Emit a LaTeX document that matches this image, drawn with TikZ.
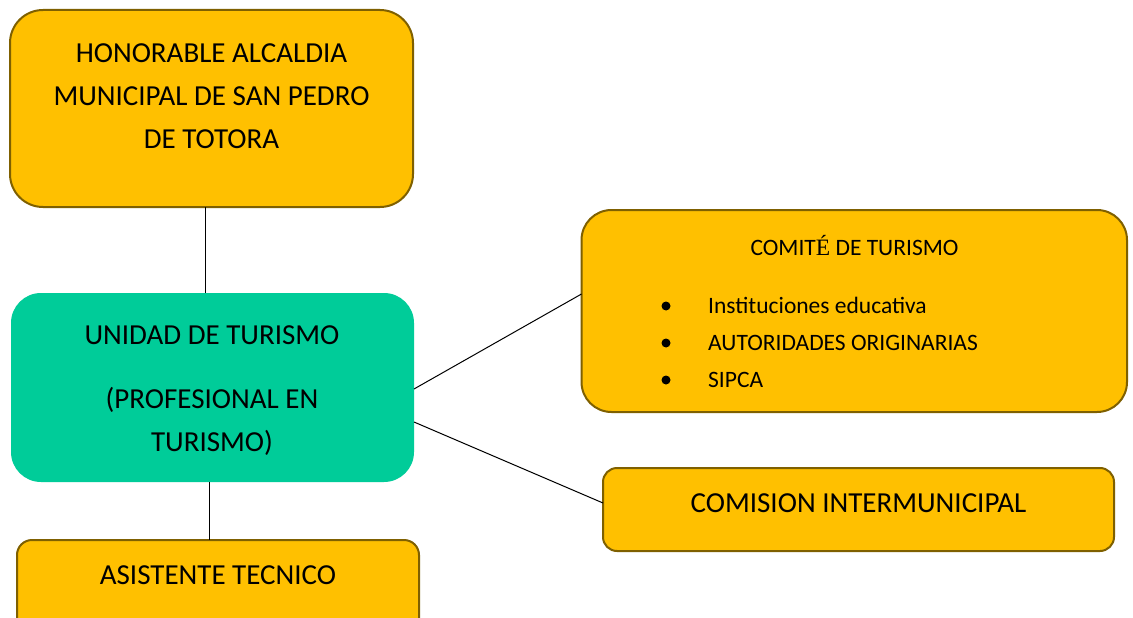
\documentclass[tikz,border=0pt]{standalone}
\usepackage{fontspec}
\setmainfont{Carlito}
\newfontfamily\serifE{Liberation Serif}
\definecolor{boxorange}{HTML}{FFC000}
\definecolor{boxedge}{HTML}{7F6000}
\definecolor{boxteal}{HTML}{00CC99}
\begin{document}
\begin{tikzpicture}[x=1pt,y=-1pt,
  obox/.style={draw=boxedge, line width=2pt, fill=boxorange, rounded corners=#1,
               inner sep=0pt, outer sep=0pt, rectangle},
  tbox/.style={fill=boxteal, rounded corners=#1, inner sep=0pt, outer sep=0pt, rectangle},
  bigtxt/.style={anchor=base, inner sep=0pt, font=\fontsize{29}{34}\selectfont},
  smalltxt/.style={inner sep=0pt, font=\fontsize{23.5}{28}\selectfont},
  bulletdot/.style={circle, fill=black, inner sep=0pt, minimum size=9pt},
  link/.style={line width=1pt, black}]
\useasboundingbox (0,0) rectangle (1133,618);
\fill[white] (0,0) rectangle (1133,618);
% boxes
\node[obox=33, minimum width=403pt, minimum height=197pt] (alc) at (211.5,108.5) {};
\node[tbox=30, minimum width=403pt, minimum height=189pt] (uni) at (212.5,387.5) {};
\node[obox=15, minimum width=402pt, minimum height=110pt] (asi) at (218,595) {};
\node[obox=30, minimum width=545.5pt, minimum height=202pt] (com) at (854.25,311) {};
\node[obox=14, minimum width=511pt, minimum height=83pt] (cms) at (858.5,509.5) {};
% connectors
\draw[link] ([xshift=-6.5pt]alc.south) -- ([xshift=-7.5pt]uni.north);
\draw[link] ([xshift=-3pt]uni.south) -- ([xshift=-8.5pt]asi.north);
\draw[link] ([yshift=-1.5pt]uni.east) -- ([yshift=17pt]com.west);
\draw[link] ([yshift=-34.5pt]uni.east) -- ([yshift=6.5pt]cms.west);
% texts
\node[bigtxt] (alcA) at (211.5,62.5) {HONORABLE ALCALDIA};
\node[bigtxt] (alcB) at (211.5,105) {MUNICIPAL DE SAN PEDRO};
\node[bigtxt] (alcC) at (211.5,148) {DE TOTORA};
\node[bigtxt] (uniA) at (212,344) {UNIDAD DE TURISMO};
\node[bigtxt] (uniB) at (212,408) {(PROFESIONAL EN};
\node[bigtxt] (uniC) at (212,451) {TURISMO)};
\node[bigtxt] (asiA) at (218,584) {ASISTENTE TECNICO};
\node[bigtxt] (cmsA) at (858.5,512) {COMISION INTERMUNICIPAL};
\node[smalltxt, anchor=base] (comA) at (854.5,255) {COMIT{\serifE É} DE TURISMO};
\node[bulletdot] (b1) at (666,306) {};
\node[bulletdot] (b2) at (666,343) {};
\node[bulletdot] (b3) at (666,380) {};
\node[smalltxt, anchor=base west] (l1) at (708,313) {Instituciones educativa};
\node[smalltxt, anchor=base west] (l2) at (708,350) {AUTORIDADES ORIGINARIAS};
\node[smalltxt, anchor=base west] (l3) at (708,387) {SIPCA};
\end{tikzpicture}
\end{document}
